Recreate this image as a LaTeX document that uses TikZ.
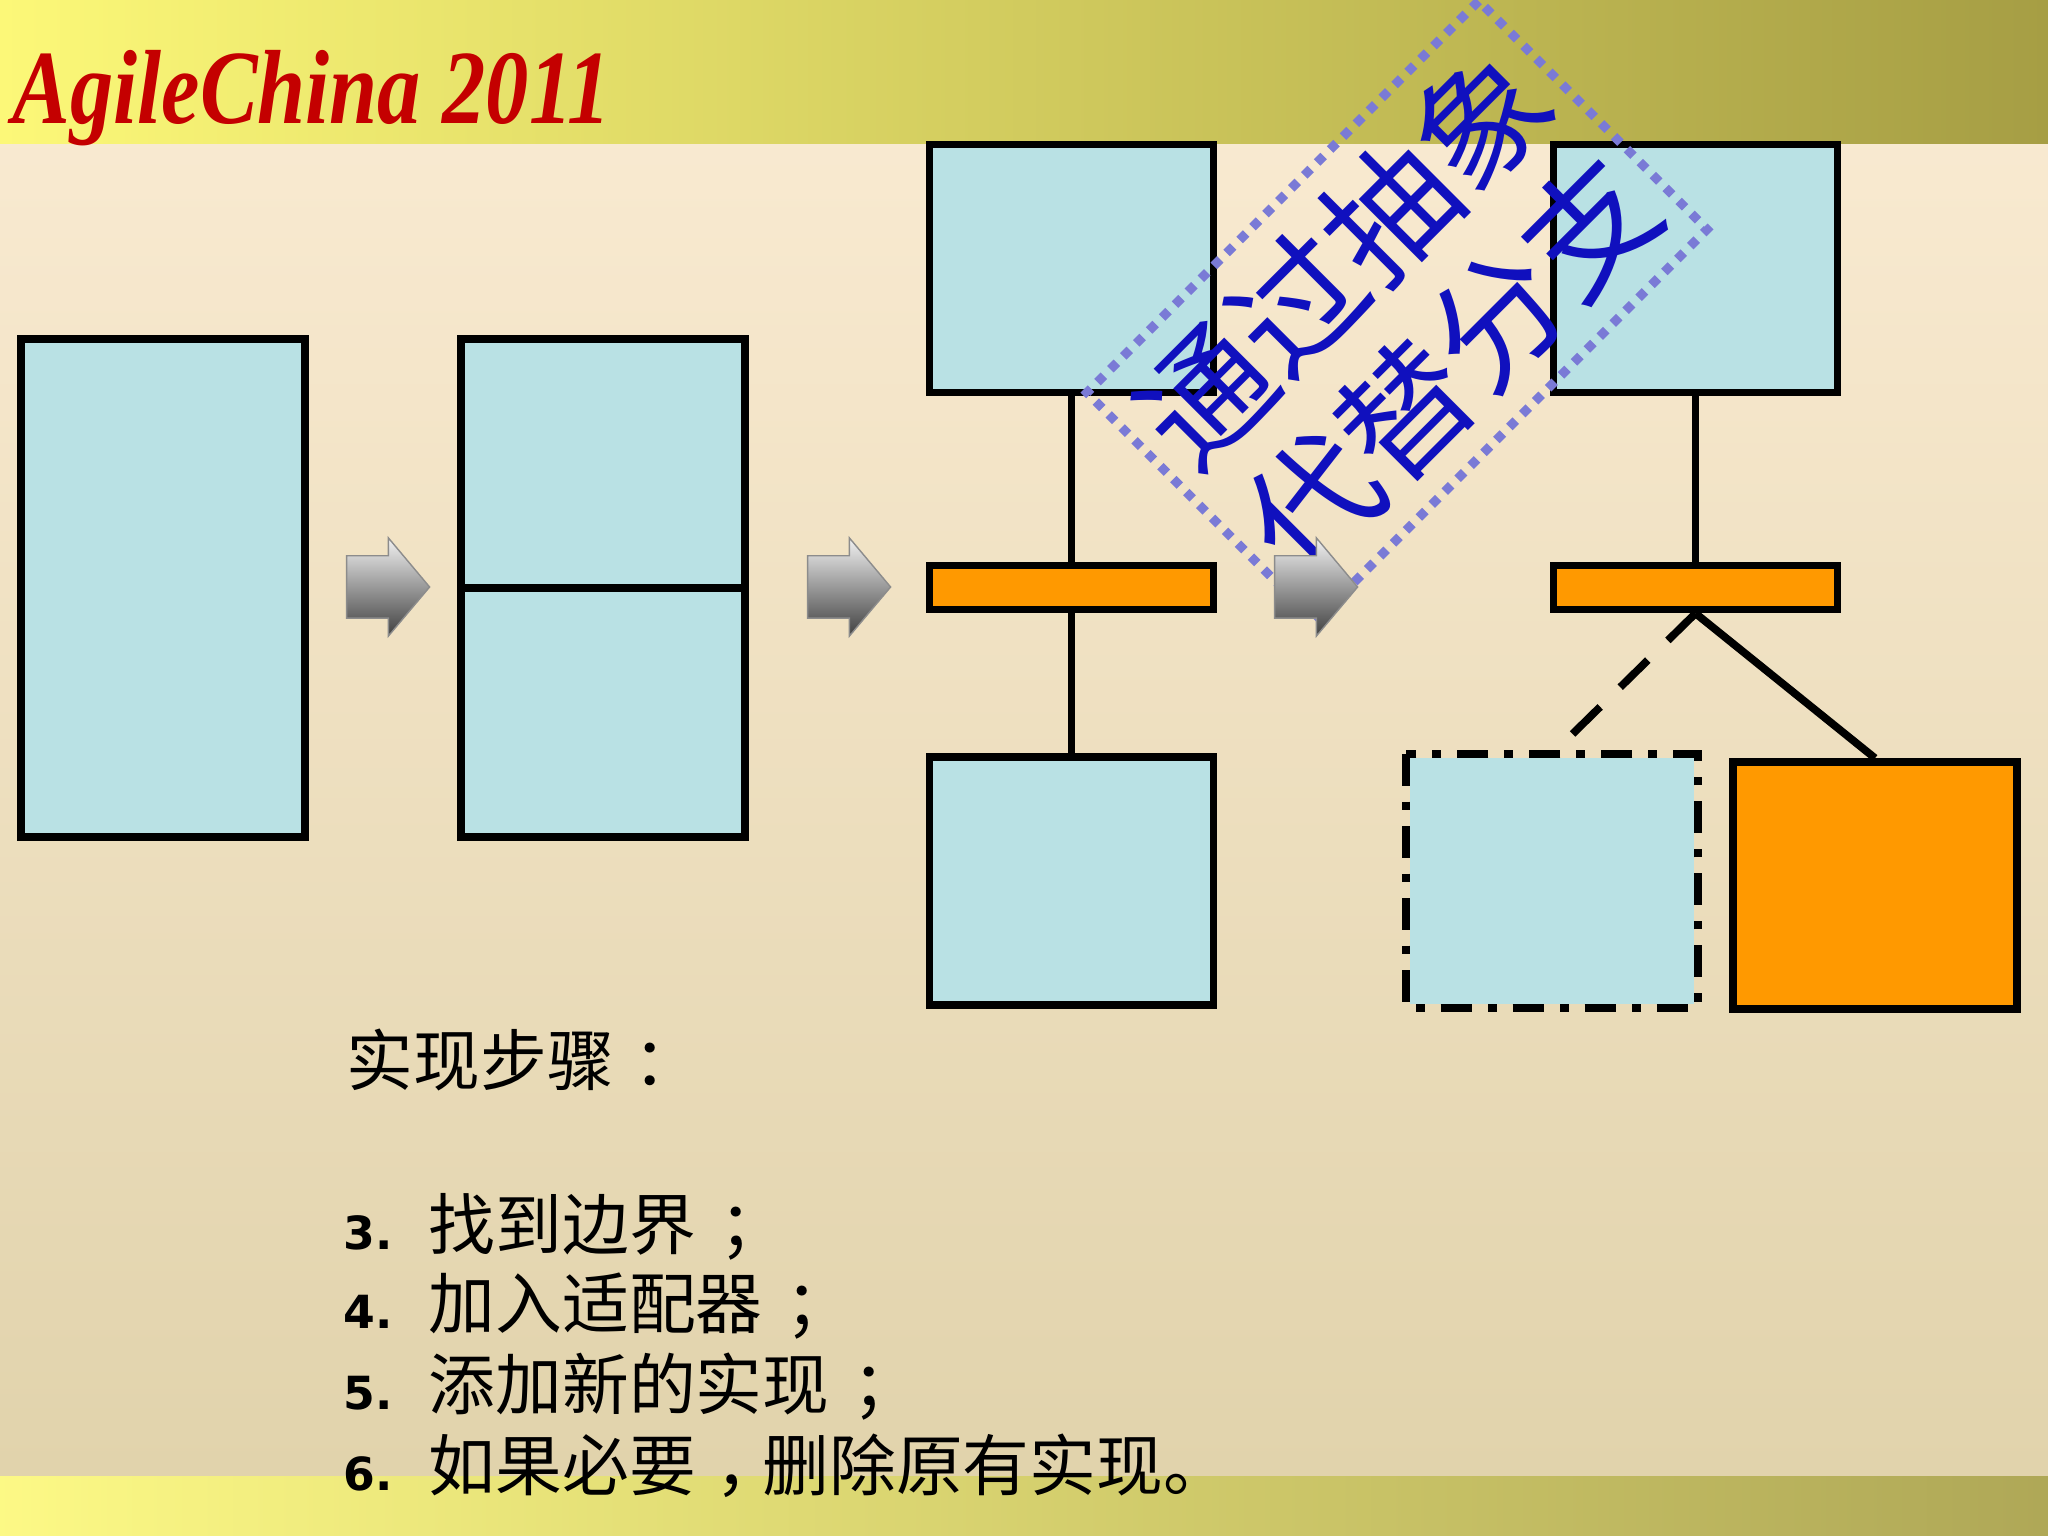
\documentclass[tikz,border=0pt]{standalone}
\usepackage{fontspec}
\setmainfont{Liberation Sans}
\newfontfamily\cjk{Noto Sans CJK SC}
\newfontfamily\titlefont{Liberation Serif}
\newfontfamily\numfont{DejaVu Sans}
\usepackage{graphicx}
\usepackage{xcolor}
\definecolor{paleblue}{RGB}{185,225,228}
\definecolor{adaptorange}{RGB}{255,153,0}
\definecolor{titlered}{RGB}{196,0,0}
\definecolor{stampblue}{RGB}{16,16,190}
\definecolor{dotblue}{RGB}{122,122,214}
\definecolor{bandlight}{RGB}{252,248,120}
\definecolor{banddark}{RGB}{166,158,68}
\definecolor{pagetop}{RGB}{251,236,212}
\definecolor{pagebottom}{RGB}{224,210,170}
\usepackage{tikz}
\usetikzlibrary{shapes.arrows}
\usetikzlibrary{positioning}
\tikzset{
  block/.style={draw=black,line width=2.2pt,fill=paleblue,inner sep=0pt,minimum width=2.84cm},
  adapterbar/.style={draw=black,line width=2.2pt,fill=adaptorange,inner sep=0pt,minimum width=2.84cm,minimum height=0.44cm},
  wire/.style={draw=black,line width=2.2pt},
  nextstep/.style={shape=single arrow,inner xsep=0pt,inner ysep=0.305cm,minimum height=0.83cm,
    single arrow head extend=0.18cm,single arrow tip angle=100,
    top color=gray!10,bottom color=black!75,draw=black!45,line width=0.4pt},
  listline/.style={anchor=base west,inner sep=0pt,font=\cjk\fontsize{19}{23}\selectfont},
  listnum/.style={anchor=base west,inner sep=0pt,font=\numfont\bfseries\fontsize{13}{15}\selectfont}
}

\begin{document}
\begin{tikzpicture}
\useasboundingbox (0,0) rectangle (20.48,-15.36);
% page background
\fill[top color=pagetop,bottom color=pagebottom] (0,0) rectangle (20.48,-15.36);
\fill[left color=bandlight,right color=banddark] (0,0) rectangle (20.48,-1.44);
\fill[left color=bandlight!90!white,right color=banddark!90!white] (0,-14.76) rectangle (20.48,-15.36);
\node (title) [anchor=west,inner sep=0pt,text=titlered,font=\titlefont\bfseries\itshape\fontsize{30}{31}\selectfont] at (0.12,-0.98) {\scalebox{0.82}[1]{AgileChina 2011}};

% the whole, then split
\node (whole) [block,minimum height=4.98cm] at (1.63,-5.88) {};
\node (split) [block,minimum height=4.98cm] at (6.03,-5.88) {};
\draw [wire] (split.west) -- (split.east);

% interface, adapter, implementation
\node (iface) [block,minimum height=2.48cm] at (10.715,-2.685) {};
\node (adapter) [adapterbar] at (10.715,-5.875) {};
\node (impl) [block,minimum height=2.48cm] at (10.715,-8.81) {};
\draw [wire] (iface) -- (adapter);
\draw [wire] (adapter) -- (impl);

% new implementation beside the old one
\node (ifaceB) [block,minimum height=2.48cm] at (16.955,-2.685) {};
\node (adapterB) [adapterbar] at (16.955,-5.875) {};
\node (oldimpl) [block,minimum height=2.46cm,draw=none] at (15.52,-8.81) {};
\draw [line width=2.4pt,dash pattern=on 9pt off 4.5pt on 2.5pt off 4.5pt]
  (oldimpl.north west) rectangle (oldimpl.south east);
\node (newimpl) [block,minimum height=2.47cm,fill=adaptorange] at (18.75,-8.855) {};
\draw [wire] (ifaceB) -- (adapterB);
\draw [wire,dash pattern=on 11pt off 8pt] (adapterB.south) -- (oldimpl.north);
\draw [wire] (adapterB.south) -- (newimpl.north);

% stamp
\node (stamp) [draw=dotblue,line width=2.6pt,dash pattern=on 2.6pt off 2.6pt,
  minimum width=5.54cm,minimum height=3.23cm,rotate=45] at (13.97,-3.11) {};
\node (motto) [rotate=45,text=stampblue,align=center,inner sep=0pt,
  font=\cjk\fontsize{37}{43}\selectfont] at (stamp.center) {通过抽象\\代替分支};

% arrows between the stages
\node (step1) [nextstep] at (3.75,-5.87) {};
\node (step2) [nextstep] at (8.36,-5.87) {};
\node (step3) [nextstep] at (13.03,-5.87) {};

% steps
\node (heading) [listline] at (3.46,-10.85) {实现步骤\hspace{0.3em}：};
\node (n3) [listnum] at (3.43,-12.49) {3.};
\node (s3) [listline] at (4.28,-12.49) {找到边界\hspace{0.35em}；};
\node (n4) [listnum] at (3.43,-13.28) {4.};
\node (s4) [listline] at (4.28,-13.28) {加入适配器\hspace{0.35em}；};
\node (n5) [listnum] at (3.43,-14.09) {5.};
\node (s5) [listline] at (4.28,-14.09) {添加新的实现\hspace{0.35em}；};
\node (n6) [listnum] at (3.43,-14.90) {6.};
\node (s6) [listline] at (4.28,-14.90) {如果必要\hspace{0.3em}，\hspace{-0.3em}删除原有实现。};
\end{tikzpicture}
\end{document}
